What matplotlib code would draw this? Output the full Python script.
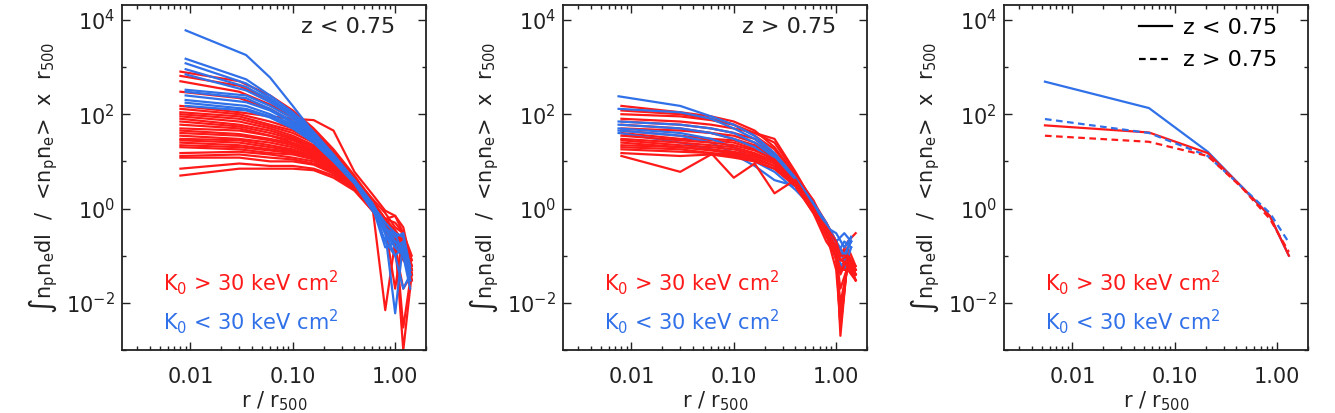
"""
Integrated emission-measure profiles, split by redshift and central entropy.
"""

import numpy as np
import matplotlib
matplotlib.use("Agg")
from matplotlib import pyplot as plt
from matplotlib.lines import Line2D
from matplotlib.ticker import FixedLocator, FixedFormatter, NullFormatter

RED  = "#ff1a1a"
BLUE = "#3070e8"
INK  = "#222222"

plt.rcParams['font.family'] = ['DejaVu Sans']
plt.rcParams['mathtext.fontset'] = 'dejavusans'
plt.rcParams['font.size'] = 15

# ---- panel 1: z < 0.75 ----
P1_R_RED = [0.008, 0.03, 0.06, 0.1, 0.16, 0.25, 0.4, 0.6, 0.8, 1.0, 1.2, 1.45]
P1_RED = [
    [800, 500, 250, 120, 50, 18, 5.0, 1.5, 0.6, 0.3, 0.15, 0.05],
    [650, 400, 200, 100, 45, 16, 4.5, 1.3, 0.5, 0.25, 0.2, 0.06],
    [500, 300, 160, 90, 40, 15, 4.5, 1.6, 0.8, 0.4, 0.3, 0.08],
    [300, 220, 130, 70, 35, 14, 4.0, 1.4, 0.4, 0.02, 0.3, 0.04],
    [150, 110, 90, 80, 75, 45, 6.0, 2.0, 0.9, 0.7, 0.4, 0.06],
    [130, 100, 70, 50, 30, 13, 4.0, 1.4, 0.6, 0.3, 0.2, 0.05],
    [110, 90, 60, 45, 28, 12, 4.0, 1.3, 0.5, 0.15, 0.1, 0.04],
    [100, 80, 55, 40, 25, 11, 3.8, 1.2, 0.4, 0.3, 0.003, 0.05],
    [90, 70, 50, 35, 22, 10, 3.5, 1.2, 0.5, 0.2, 0.1, 0.03],
    [80, 60, 45, 32, 20, 10, 3.5, 1.1, 0.4, 0.25, 0.15, 0.04],
    [70, 55, 40, 30, 20, 10, 3.5, 1.3, 0.6, 0.35, 0.2, 0.06],
    [60, 50, 35, 28, 18, 9, 3.2, 1.1, 0.007, 0.2, 0.12, 0.05],
    [50, 45, 35, 25, 17, 9, 3.2, 1.0, 0.4, 0.2, 0.1, 0.03],
    [45, 38, 30, 24, 16, 8, 3.0, 1.0, 0.45, 0.2, 0.15, 0.04],
    [40, 35, 28, 22, 15, 8, 3.0, 1.1, 0.5, 0.3, 0.08, 0.05],
    [35, 30, 25, 20, 14, 8, 3.0, 1.0, 0.4, 0.2, 0.001, 0.04],
    [30, 28, 22, 18, 13, 7, 3.0, 1.0, 0.4, 0.15, 0.1, 0.03],
    [28, 25, 20, 17, 13, 7.5, 3.2, 1.2, 0.6, 0.7, 0.3, 0.1],
    [25, 22, 18, 16, 12, 7, 3.0, 1.0, 0.5, 0.3, 0.2, 0.05],
    [22, 20, 17, 15, 12, 7, 3.0, 1.1, 0.5, 0.25, 0.15, 0.04],
    [20, 18, 15, 14, 11, 6.5, 2.8, 1.0, 0.4, 0.2, 0.1, 0.03],
    [15, 16, 14, 12, 10, 6, 2.8, 1.0, 0.5, 0.3, 0.2, 0.06],
    [13, 14, 12, 11, 9, 6, 2.7, 0.9, 0.4, 0.25, 0.1, 0.04],
    [12, 12, 10, 10, 8.5, 5.5, 2.6, 1.0, 0.6, 0.5, 0.3, 0.08],
    [7, 9, 8, 8, 7, 5, 2.5, 0.9, 0.5, 0.2, 0.12, 0.05],
    [5, 7, 7, 7, 6.5, 4.5, 2.4, 0.9, 0.4, 0.15, 0.02, 0.04],
]
P1_R_BLUE = [0.009, 0.035, 0.06, 0.1, 0.16, 0.25, 0.4, 0.6, 0.8, 1.0, 1.2, 1.4]
P1_BLUE = [
    [6000, 1800, 600, 150, 40, 12, 4.0, 1.3, 0.4, 0.15, 0.2, 0.05],
    [1500, 550, 250, 110, 42, 14, 4.0, 1.2, 0.3, 0.006, 0.2, 0.04],
    [1200, 450, 220, 100, 40, 13, 4.0, 1.1, 0.2, 0.1, 0.15, 0.03],
    [900, 380, 200, 95, 38, 13, 4.0, 1.2, 0.35, 0.3, 0.1, 0.04],
    [700, 320, 180, 90, 35, 12, 3.8, 1.2, 0.5, 0.3, 0.25, 0.06],
    [330, 250, 150, 80, 32, 12, 3.8, 1.1, 0.15, 0.2, 0.1, 0.03],
    [300, 220, 130, 70, 30, 11, 3.6, 1.1, 0.4, 0.2, 0.15, 0.05],
    [250, 180, 120, 65, 28, 11, 3.6, 1.0, 0.3, 0.1, 0.02, 0.04],
    [200, 150, 100, 60, 27, 11, 3.5, 1.0, 0.4, 0.25, 0.3, 0.05],
    [175, 130, 90, 55, 25, 10, 3.5, 1.0, 0.3, 0.15, 0.1, 0.02],
    [150, 120, 85, 50, 25, 10, 3.4, 0.9, 0.4, 0.2, 0.15, 0.04],
]

# ---- panel 2: z > 0.75 ----
P2_R_RED = [0.008, 0.03, 0.06, 0.1, 0.16, 0.25, 0.4, 0.6, 0.8, 1.0, 1.1, 1.3, 1.55]
P2_RED = [
    [150, 110, 90, 70, 45, 20, 5.0, 1.5, 0.4, 0.15, 0.05, 0.1, 0.05],
    [120, 100, 80, 60, 40, 30, 6.0, 1.3, 0.3, 0.05, 0.004, 0.08, 0.04],
    [100, 90, 75, 60, 35, 18, 5.0, 1.2, 0.5, 0.2, 0.1, 0.15, 0.06],
    [80, 70, 60, 50, 40, 25, 5.5, 1.4, 0.5, 0.2, 0.003, 0.1, 0.05],
    [70, 60, 50, 40, 30, 15, 4.5, 1.2, 0.4, 0.1, 0.05, 0.12, 0.04],
    [60, 50, 40, 35, 25, 14, 4.0, 1.1, 0.35, 0.15, 0.002, 0.1, 0.03],
    [50, 45, 40, 30, 22, 13, 4.0, 1.0, 0.3, 0.1, 0.05, 0.08, 0.05],
    [45, 35, 30, 28, 20, 12, 4.0, 1.1, 0.4, 0.2, 0.1, 0.2, 0.3],
    [40, 30, 28, 25, 18, 12, 3.8, 1.0, 0.3, 0.08, 0.01, 0.06, 0.04],
    [35, 28, 25, 22, 17, 11, 3.5, 1.0, 0.35, 0.15, 0.08, 0.1, 0.05],
    [30, 25, 22, 20, 15, 10, 3.5, 1.0, 0.3, 0.1, 0.006, 0.07, 0.03],
    [28, 22, 20, 18, 14, 10, 3.5, 0.9, 0.4, 0.2, 0.1, 0.1, 0.06],
    [25, 20, 18, 16, 13, 9, 3.2, 0.9, 0.3, 0.1, 0.05, 0.05, 0.03],
    [22, 20, 17, 15, 12, 8, 3.0, 0.9, 0.25, 0.12, 0.003, 0.08, 0.04],
    [18, 16, 15, 14, 11, 8, 3.0, 0.8, 0.3, 0.15, 0.08, 0.07, 0.05],
    [15, 13, 14, 13, 10, 7, 3.0, 0.8, 0.2, 0.1, 0.02, 0.06, 0.03],
    [13, 6, 14, 12, 10, 7, 3.0, 1.0, 0.3, 0.1, 0.05, 0.08, 0.04],
    [20, 18, 15, 4.5, 9, 2.1, 4.1, 1.0, 0.3, 0.12, 0.04, 0.09, 0.05],
]
P2_R_BLUE = [0.0075, 0.03, 0.06, 0.1, 0.16, 0.25, 0.4, 0.6, 0.8, 1.0, 1.2, 1.4]
P2_BLUE = [
    [240, 150, 90, 60, 35, 15, 4.5, 1.3, 0.5, 0.2, 0.3, 0.2],
    [130, 110, 80, 50, 30, 13, 4.0, 1.2, 0.4, 0.3, 0.15, 0.25],
    [70, 60, 50, 40, 25, 12, 4.0, 1.2, 0.3, 0.1, 0.2, 0.15],
    [60, 50, 40, 30, 20, 10, 3.5, 1.1, 0.4, 0.2, 0.1, 0.2],
    [50, 40, 30, 20, 10, 7, 3.0, 1.0, 0.3, 0.15, 0.08, 0.25],
    [45, 35, 25, 15, 10, 6, 2.5, 1.0, 0.35, 0.2, 0.1, 0.2],
    [40, 25, 18, 14, 8, 4, 3.0, 0.9, 0.3, 0.1, 0.05, 0.15],
]

# ---- panel 3: medians ----
P3_R = [0.0054, 0.056, 0.21, 0.45, 0.85, 1.3]
P3_BLUE_LOWZ  = [490, 135, 16, 2.9, 0.69, 0.10]
P3_RED_LOWZ   = [58, 41, 15, 2.9, 0.69, 0.10]
P3_BLUE_HIGHZ = [79, 40, 13, 2.9, 0.80, 0.19]
P3_RED_HIGHZ  = [35, 26, 13, 2.8, 0.60, 0.12]

YLABEL = (r'$\int$n$_\mathrm{p}$n$_\mathrm{e}$dl  /  '
          r'<n$_\mathrm{p}$n$_\mathrm{e}$>  x  r$_{500}$')
XLABEL = r'r / r$_{500}$'
K_HI = r'K$_0$ > 30 keV cm$^2$'
K_LO = r'K$_0$ < 30 keV cm$^2$'

W, H = 1335, 413
fig = plt.figure(figsize=(W / 100, H / 100), dpi=100)
lefts = [122, 563, 1004]
axes = [fig.add_axes([l / W, 1 - 350 / H, 304 / W, 345 / H]) for l in lefts]

DASH = (0, (3, 2))
LW = 1.6


def style(ax):
    ax.set_xscale('log')
    ax.set_yscale('log')
    ax.set_xlim(0.00215, 2.0)
    ax.set_ylim(1e-3, 2.07e4)
    ax.yaxis.set_major_locator(FixedLocator([1e-2, 1e0, 1e2, 1e4]))
    ax.yaxis.set_major_formatter(FixedFormatter([r'$10^{-2}$', r'$10^{0}$',
                                                 r'$10^{2}$', r'$10^{4}$']))
    ax.yaxis.set_minor_locator(FixedLocator([1e-3, 1e-1, 1e1, 1e3]))
    ax.yaxis.set_minor_formatter(NullFormatter())
    ax.xaxis.set_major_locator(FixedLocator([0.01, 0.1, 1.0]))
    ax.xaxis.set_major_formatter(FixedFormatter(['0.01', '0.10', '1.00']))
    minors = [m * d for d in (0.001, 0.01, 0.1, 1.0) for m in range(2, 10)]
    ax.xaxis.set_minor_locator(FixedLocator(minors))
    ax.xaxis.set_minor_formatter(NullFormatter())
    ax.tick_params(which='both', direction='in', top=True, right=True,
                   color=INK, labelcolor=INK, labelsize=15)
    ax.tick_params(which='major', length=6, width=1.0)
    ax.tick_params(which='minor', length=3, width=1.0)
    ax.tick_params(axis='x', pad=12)
    ax.tick_params(axis='y', pad=5)
    for s in ax.spines.values():
        s.set_linewidth(1.3)
        s.set_color(INK)
    ax.set_ylabel(YLABEL, fontsize=15, color=INK)
    ax.yaxis.set_label_coords(-0.205, 0.5)
    ax.set_xlabel(XLABEL, fontsize=15, color=INK)
    ax.xaxis.set_label_coords(0.5, -0.113)
    ax.text(0.135, 0.195, K_HI, color=RED, transform=ax.transAxes,
            fontsize=15, va='center')
    ax.text(0.135, 0.082, K_LO, color=BLUE, transform=ax.transAxes,
            fontsize=15, va='center')


ax1, ax2, ax3 = axes
for y in P1_RED:
    ax1.plot(P1_R_RED, y, color=RED, lw=LW)
for y in P1_BLUE:
    ax1.plot(P1_R_BLUE, y, color=BLUE, lw=LW)
ax1.text(0.9, 0.935, 'z < 0.75', transform=ax1.transAxes, ha='right',
         va='center', fontsize=16, color=INK)

# high-z panel: upper reds, then blues, then the lower reds on top
for y in P2_RED[:9]:
    ax2.plot(P2_R_RED, y, color=RED, lw=LW)
for y in P2_BLUE:
    ax2.plot(P2_R_BLUE, y, color=BLUE, lw=LW)
for y in P2_RED[9:]:
    ax2.plot(P2_R_RED, y, color=RED, lw=LW)
ax2.text(0.9, 0.935, 'z > 0.75', transform=ax2.transAxes, ha='right',
         va='center', fontsize=16, color=INK)

ax3.plot(P3_R, P3_BLUE_LOWZ, color=BLUE, lw=LW)
ax3.plot(P3_R, P3_RED_LOWZ, color=RED, lw=LW)
ax3.plot(P3_R, P3_BLUE_HIGHZ, color=BLUE, lw=LW, ls=DASH)
ax3.plot(P3_R, P3_RED_HIGHZ, color=RED, lw=LW, ls=DASH)
handles = [Line2D([], [], color='black', lw=LW),
           Line2D([], [], color='black', lw=LW, ls=DASH)]
ax3.legend(handles, ['z < 0.75', 'z > 0.75'], loc='upper right',
           bbox_to_anchor=(0.965, 1.02), frameon=False, fontsize=16,
           handlelength=1.5, handletextpad=0.5, labelspacing=0.55)

for ax in axes:
    style(ax)

fig.savefig('out.png', dpi=100)
